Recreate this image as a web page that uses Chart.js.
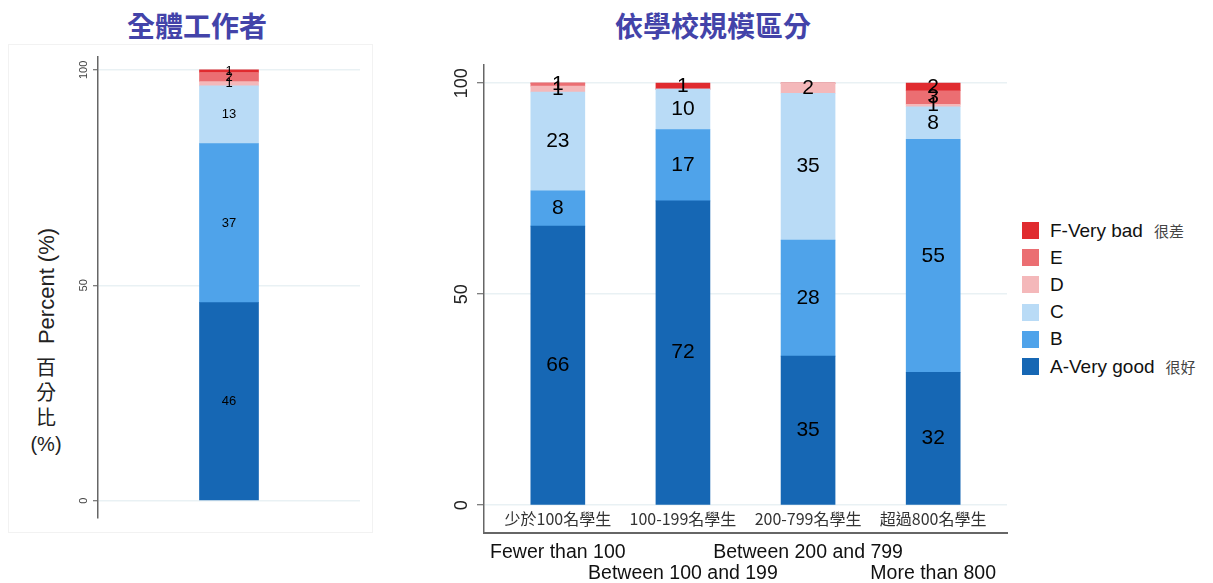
<!DOCTYPE html>
<html>
<head>
<meta charset="utf-8">
<script src="https://cdn.jsdelivr.net/npm/chart.js@4/dist/chart.umd.min.js"></script>
<style>
  html, body { margin: 0; padding: 0; background: #fff; }
  body { width: 1213px; height: 583px; position: relative; overflow: hidden;
         font-family: 'Liberation Sans', Arial, 'Noto Sans CJK TC', sans-serif; }
  .title { position: absolute; top: 6px; font-family: 'Noto Sans CJK TC', sans-serif; font-weight: bold;
           font-size: 28px; color: #4343a9; line-height: 38px; transform: translateX(-50%); white-space: nowrap; }
  #panelBox { position: absolute; left: 8px; top: 44px; width: 363px; height: 487px; border: 1px solid #f2f2f2; }
  canvas { position: absolute; top: 0; }
  .ytitle { position: absolute; color: #222; font-size: 22px; white-space: nowrap; line-height: 24px; }
  .ycn { position: absolute; font-family: 'Noto Sans CJK TC', sans-serif; font-size: 20px; color: #222;
         transform: translate(-50%, -50%); line-height: 24px; }
  #legend { position: absolute; left: 1022px; top: 217px; }
  .row { height: 27.2px; display: flex; align-items: center; white-space: nowrap; }
  .sw { width: 17px; height: 17px; margin-right: 11px; }
  .lt { font-size: 19px; color: #111; }
  .lc { font-family: 'Noto Sans CJK TC', sans-serif; font-size: 15px; color: #444; margin-left: 11px; }
</style>
</head>
<body>
<div id="panelBox"></div>
<div class="title" style="left:197px;">全體工作者</div>
<div class="title" style="left:713px;">依學校規模區分</div>
<div class="ytitle" style="left:47px; top:286px; transform: translate(-50%,-50%) rotate(-90deg);">Percent (%)</div>
<div class="ycn" style="left:46px; top:367px;">百</div>
<div class="ycn" style="left:46px; top:392px;">分</div>
<div class="ycn" style="left:46px; top:417px;">比</div>
<div class="ycn" style="left:46px; top:444px; font-family:'Liberation Sans', Arial, sans-serif;">(%)</div>
<canvas id="c1" width="400" height="583" style="left:0px;"></canvas>
<canvas id="c2" width="620" height="583" style="left:400px;"></canvas>
<div id="legend"></div>
<script>
// ---- data ----
const seriesNames = ['A-Very good', 'B', 'C', 'D', 'E', 'F-Very bad'];
const seriesNotes = ['很好', '', '', '', '', '很差'];
const categoriesZh = ['少於100名學生', '100-199名學生', '200-799名學生', '超過800名學生'];
const categoriesEn = ['Fewer than 100', 'Between 100 and 199', 'Between 200 and 799', 'More than 800'];
const yTicks = [0, 50, 100];

// All workers (全體工作者)
const allA = [46.0];
const allB = [36.9];
const allC = [13.4];
const allD = [1.0];
const allE = [2.1];
const allF = [0.6];

// By school size (依學校規模區分)
const sizeA = [66.1, 72.1, 35.3, 31.5];
const sizeB = [8.4, 16.9, 27.5, 55.2];
const sizeC = [23.4, 9.6, 34.8, 7.7];
const sizeD = [1.4, 0, 2.4, 0.6];
const sizeE = [0.7, 0, 0, 3.2];
const sizeF = [0, 1.4, 0, 1.8];

const colors = ['#1667b4', '#4fa3ea', '#b9dbf6', '#f4b8ba', '#eb6e72', '#e02b2f'];

Chart.defaults.font.family = "'Liberation Sans', Arial, 'Noto Sans CJK TC', sans-serif";
Chart.defaults.animation = false;

function segLabels(size) {
  return {
    id: 'segLabels',
    afterDatasetsDraw(chart) {
      const ctx = chart.ctx;
      ctx.save();
      ctx.font = size + "px 'Liberation Sans', Arial, sans-serif";
      ctx.fillStyle = '#000';
      ctx.textAlign = 'center';
      ctx.textBaseline = 'middle';
      chart.data.datasets.forEach((ds, di) => {
        const meta = chart.getDatasetMeta(di);
        meta.data.forEach((el, i) => {
          const raw = ds.data[i];
          const v = typeof raw === 'object' ? raw.y : raw;
          if (!v) return;
          ctx.fillText(String(Math.round(v)), el.x, (el.y + el.base) / 2);
        });
      });
      ctx.restore();
    }
  };
}

// ---- left chart ----
const allSeries = [allA, allB, allC, allD, allE, allF];
new Chart(document.getElementById('c1'), {
  type: 'bar',
  data: {
    labels: [''],
    datasets: allSeries.map((d, i) => ({
      label: seriesNames[i], data: d, backgroundColor: colors[i], barThickness: 59, borderWidth: 0
    }))
  },
  options: {
    responsive: false,
    layout: { padding: { top: 57, right: 40, bottom: 65, left: 0 } },
    plugins: { legend: { display: false }, tooltip: { enabled: false } },
    scales: {
      x: { stacked: true, display: false },
      y: {
        stacked: true, min: -4.0, max: 103.0,
        afterBuildTicks: s => { s.ticks = yTicks.map(v => ({ value: v })); },
        afterFit: s => { s.width = 98; },
        grid: { color: '#e9f1f4', lineWidth: 1.5, tickColor: '#555', tickLength: 5, tickWidth: 1 },
        border: { display: true, color: '#666', width: 1.5 },
        ticks: { minRotation: 90, maxRotation: 90, crossAlign: 'center', padding: 0,
                 font: { size: 11 }, color: '#444' }
      }
    }
  },
  plugins: [segLabels(13)]
});

// ---- right chart ----
const sizeSeries = [sizeA, sizeB, sizeC, sizeD, sizeE, sizeF];
const cnLabels = {
  id: 'cnLabels',
  afterDatasetsDraw(chart) {
    const ctx = chart.ctx;
    ctx.save();
    ctx.font = "16px 'Noto Sans CJK TC', sans-serif";
    ctx.fillStyle = '#333';
    ctx.textAlign = 'center';
    ctx.textBaseline = 'middle';
    categoriesZh.forEach((t, i) => {
      ctx.fillText(t, chart.scales.x.getPixelForValue(i), chart.scales.y.getPixelForValue(-3.3));
    });
    ctx.restore();
  }
};
new Chart(document.getElementById('c2'), {
  type: 'bar',
  data: {
    datasets: sizeSeries.map((d, i) => ({
      label: seriesNames[i],
      data: d.map((v, j) => ({ x: j, y: v })),
      backgroundColor: colors[i], barThickness: 54, borderWidth: 0
    }))
  },
  options: {
    responsive: false,
    layout: { padding: { top: 65, right: 13, bottom: 0, left: 0 } },
    plugins: { legend: { display: false }, tooltip: { enabled: false } },
    scales: {
      x: {
        type: 'linear', stacked: true, min: -0.59, max: 3.59, offset: false,
        afterBuildTicks: s => { s.ticks = categoriesEn.map((_, i) => ({ value: i })); },
        afterFit: s => { s.height = 50; },
        grid: { display: false, drawTicks: false, offset: false },
        border: { display: true, color: '#666', width: 2 },
        ticks: {
          autoSkip: false, maxRotation: 0, padding: 9, color: '#111',
          font: { size: 19.5, lineHeight: 1.07 },
          callback: (v) => {
            const i = Math.round(v);
            return i % 2 === 0 ? [categoriesEn[i], ''] : ['', categoriesEn[i]];
          }
        }
      },
      y: {
        stacked: true, min: -6.6, max: 104.3,
        afterBuildTicks: s => { s.ticks = yTicks.map(v => ({ value: v })); },
        afterFit: s => { s.width = 84; },
        grid: { color: '#e9f1f4', lineWidth: 1.5, tickColor: '#555', tickLength: 7, tickWidth: 1 },
        border: { display: true, color: '#666', width: 1.5 },
        ticks: { minRotation: 90, maxRotation: 90, crossAlign: 'center', padding: 0,
                 font: { size: 18 }, color: '#222' }
      }
    }
  },
  plugins: [segLabels(21), cnLabels]
});

// ---- legend (top: F ... bottom: A) ----
const lg = document.getElementById('legend');
for (let i = seriesNames.length - 1; i >= 0; i--) {
  const row = document.createElement('div');
  row.className = 'row';
  row.innerHTML = '<div class="sw" style="background:' + colors[i] + '"></div>' +
    '<span class="lt">' + seriesNames[i] + '</span>' +
    (seriesNotes[i] ? '<span class="lc">' + seriesNotes[i] + '</span>' : '');
  lg.appendChild(row);
}
</script>
</body>
</html>
